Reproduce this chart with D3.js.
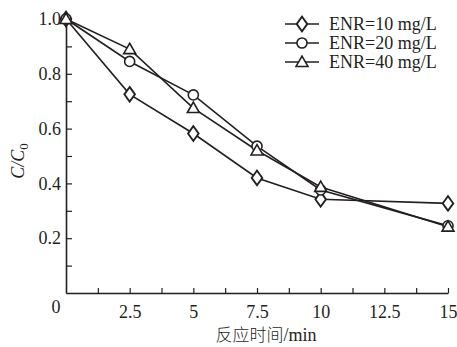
<!DOCTYPE html>
<html>
<head>
<meta charset="utf-8">
<script src="https://cdn.jsdelivr.net/npm/d3@7"></script>
<style>
  body { margin: 0; background: #fff; }
  text { font-family: "Liberation Serif", "Times New Roman", serif; fill: #231f20; }
</style>
</head>
<body>
<div id="chart_div"></div>
<script>
// data
const times = [0, 2.5, 5, 7.5, 10, 15];
const enr10 = [1.0, 0.725, 0.582, 0.42, 0.342, 0.327];
const enr20 = [1.0, 0.845, 0.723, 0.536, 0.376, 0.245];
const enr40 = [1.0, 0.89, 0.675, 0.52, 0.387, 0.242];
const seriesNames = ["ENR=10 mg/L", "ENR=20 mg/L", "ENR=40 mg/L"];
const xTicks = [2.5, 5, 7.5, 10, 12.5, 15];
const yTicks = [0.2, 0.4, 0.6, 0.8, 1.0];

const w = 457, h = 347;
const ink = "#231f20";

const svg = d3.select("#chart_div")
  .append("svg")
  .attr("width", w)
  .attr("height", h);

// scales
const x = d3.scaleLinear().domain([0, 15]).range([66, 448]);
const y = d3.scaleLinear().domain([0, 1.0]).range([293, 19]);

// X axis, ticks pointing inward
const xAxis = svg.append("g")
  .attr("transform", "translate(0," + y(0) + ")")
  .call(d3.axisBottom(x)
    .tickValues(d3.range(0, 15.01, 1.25))
    .tickSizeInner(-5).tickSizeOuter(0)
    .tickFormat(d => xTicks.includes(d) ? d3.format("~g")(d) : ""));
xAxis.select(".domain").attr("stroke", ink).attr("stroke-width", 1.6);
xAxis.selectAll(".tick line").attr("stroke", ink).attr("stroke-width", 1.2);
xAxis.selectAll(".tick text")
  .attr("y", 12)
  .style("font-size", "18px")
  .attr("fill", ink);
xAxis.selectAll(".tick").filter(d => d === 0).remove();

// origin label
svg.append("text")
  .attr("x", 56).attr("y", 313)
  .attr("text-anchor", "middle")
  .style("font-size", "18px")
  .text("0");

// Y axis
const yAxis = svg.append("g")
  .attr("transform", "translate(" + x(0) + ",0)")
  .call(d3.axisLeft(y)
    .tickValues(d3.range(0.1, 1.001, 0.1))
    .tickSizeInner(-6).tickSizeOuter(0)
    .tickFormat(d => yTicks.some(t => Math.abs(t - d) < 1e-6) ? d3.format(".1f")(d) : ""));
yAxis.select(".domain").attr("stroke", ink).attr("stroke-width", 1.6);
yAxis.selectAll(".tick line").attr("stroke", ink).attr("stroke-width", 1.2);
yAxis.selectAll(".tick text")
  .attr("x", -5)
  .style("font-size", "18px")
  .attr("fill", ink);

// axis titles
svg.append("text")
  .attr("transform", "translate(24,161) rotate(-90)")
  .attr("text-anchor", "middle")
  .style("font-size", "18px")
  .style("font-style", "italic")
  .html('C/C<tspan dy="4" font-size="13px" font-style="normal">0</tspan>');

svg.append("text")
  .attr("x", 266).attr("y", 341)
  .attr("text-anchor", "middle")
  .style("font-size", "18px")
  .html('<tspan font-family="Noto Sans CJK SC" font-size="17px" font-weight="300">反应时间</tspan>/min');

// series
const symbols = [d3.symbolDiamond, d3.symbolCircle, d3.symbolTriangle];
const symSize = [62, 80, 62];
const allSeries = [enr10, enr20, enr40];

const line = d3.line()
  .x((d, i) => x(times[i]))
  .y(d => y(d));

allSeries.forEach((vals, k) => {
  svg.append("path")
    .datum(vals)
    .attr("fill", "none")
    .attr("stroke", ink)
    .attr("stroke-width", 1.6)
    .attr("d", line);
});

allSeries.forEach((vals, k) => {
  svg.append("g")
    .selectAll("path")
    .data(vals).enter()
    .append("path")
    .attr("d", d3.symbol().type(symbols[k]).size(symSize[k]))
    .attr("transform", (d, i) => "translate(" + x(times[i]) + "," + (y(d) + (k === 2 ? 1 : 0)) + ")" + (k === 0 ? " scale(1.25,1)" : ""))
    .attr("fill", "#fff")
    .attr("stroke", ink)
    .attr("stroke-width", 1.6);
});

// legend
const legend = svg.append("g");
seriesNames.forEach((name, k) => {
  const ly = 24 + k * 19;
  legend.append("line")
    .attr("x1", 285).attr("x2", 319)
    .attr("y1", ly).attr("y2", ly)
    .attr("stroke", ink).attr("stroke-width", 1.6);
  legend.append("path")
    .attr("d", d3.symbol().type(symbols[k]).size(symSize[k]))
    .attr("transform", "translate(302," + (ly + (k === 2 ? 1 : 0)) + ")" + (k === 0 ? " scale(1.25,1)" : ""))
    .attr("fill", "#fff")
    .attr("stroke", ink)
    .attr("stroke-width", 1.6);
  legend.append("text")
    .attr("x", 329).attr("y", ly + 6)
    .style("font-size", "18px")
    .text(name);
});
</script>
</body>
</html>
